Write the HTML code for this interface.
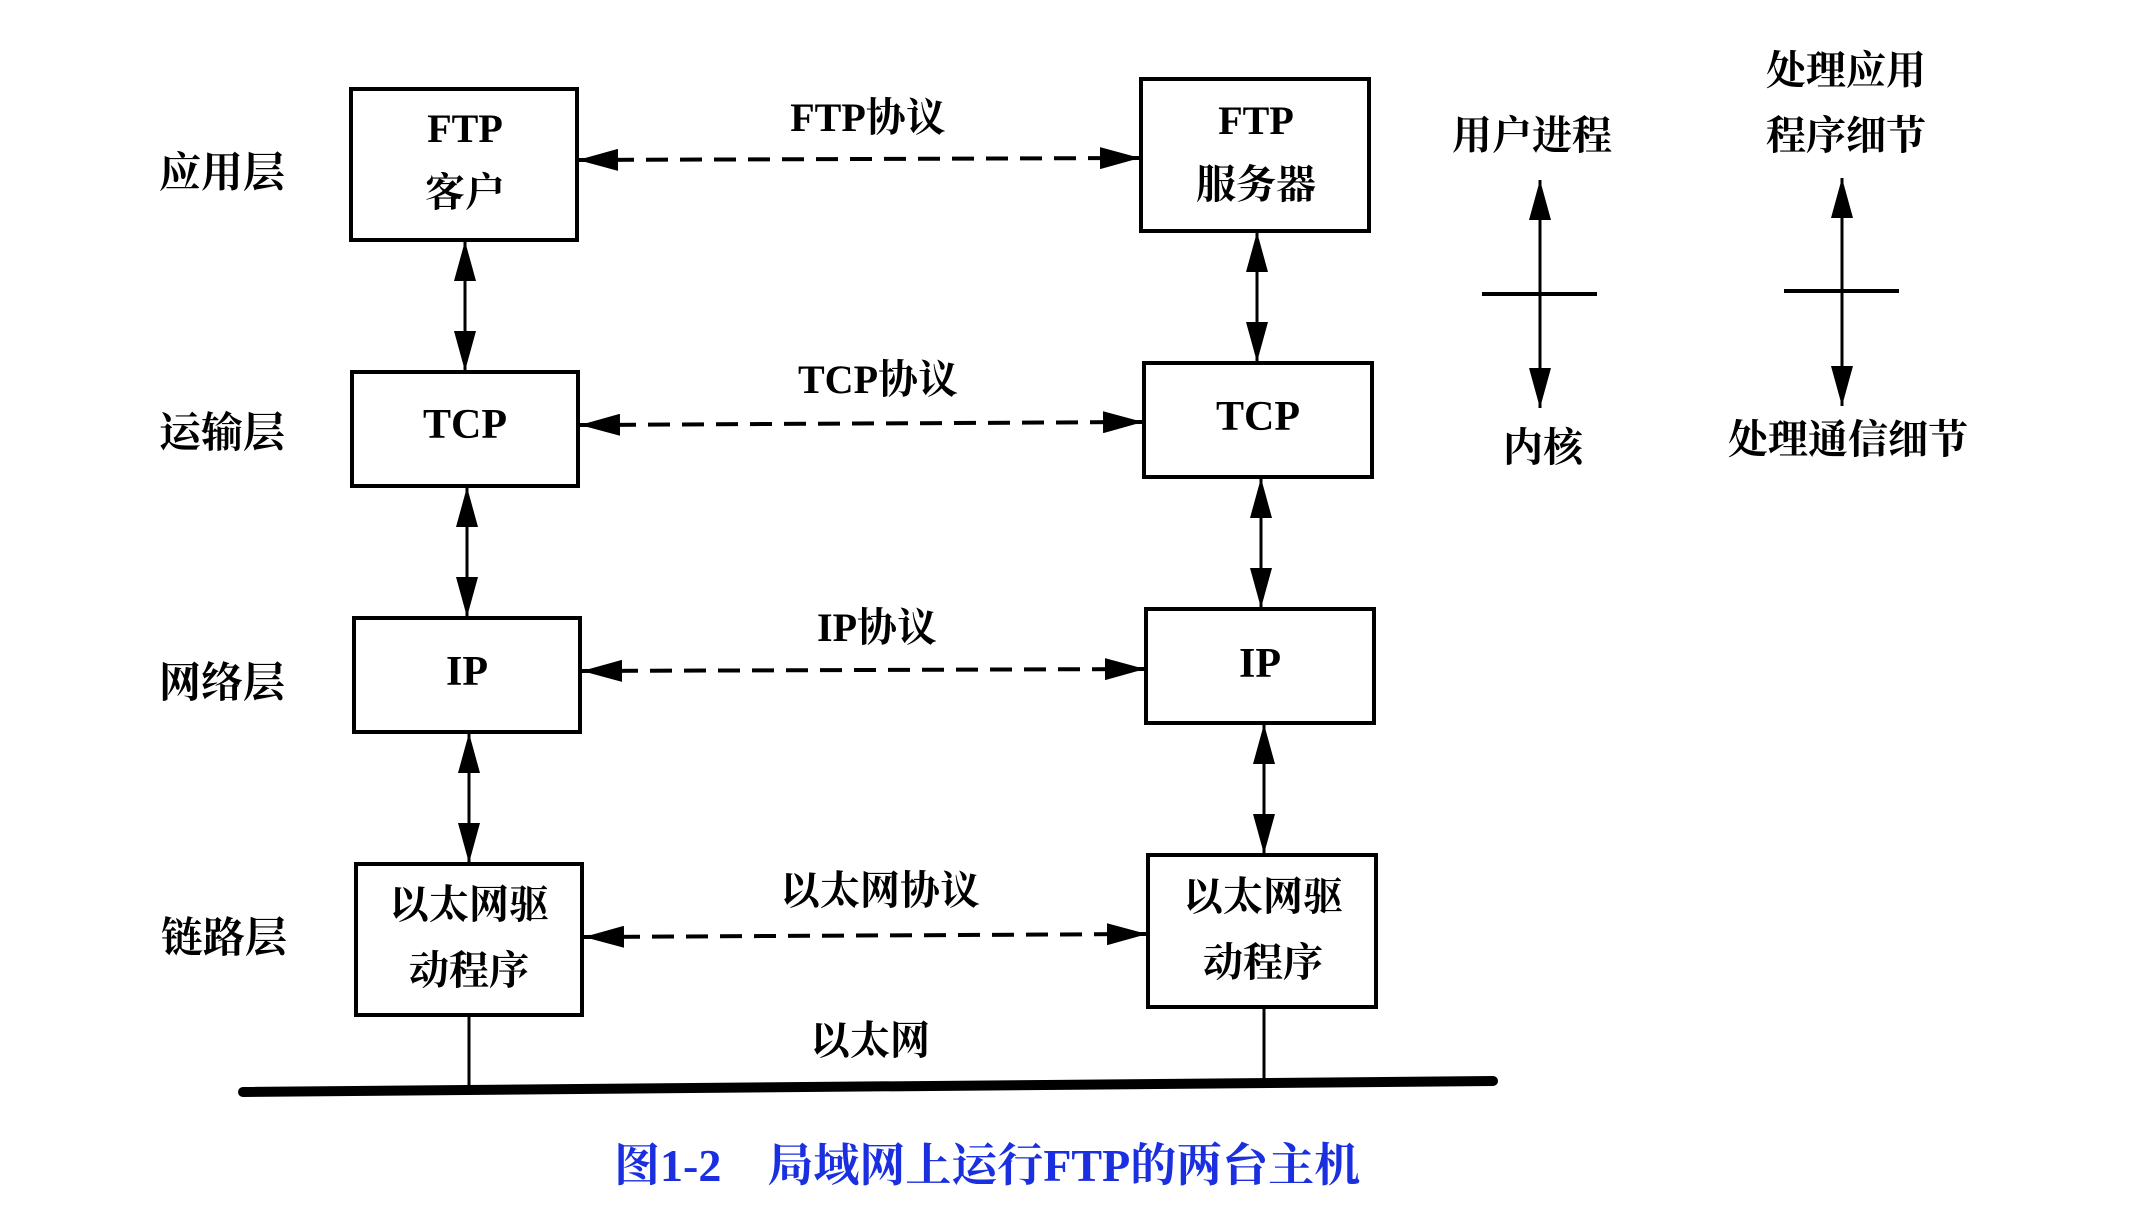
<!DOCTYPE html>
<html><head><meta charset="utf-8"><style>
html,body{margin:0;padding:0;background:#fff;}
svg{display:block;}
text{font-family:"Liberation Serif","Noto Serif CJK SC",serif;font-weight:bold;fill:#000;}
.cn{font-family:"Liberation Serif","Noto Serif CJK SC",serif;}
</style></head><body>
<svg width="2144" height="1220" viewBox="0 0 2144 1220" xmlns="http://www.w3.org/2000/svg">
<defs>
<marker id="ah" viewBox="0 0 40 22" refX="40" refY="11" markerWidth="40" markerHeight="22" markerUnits="userSpaceOnUse" orient="auto-start-reverse">
<path d="M0,0 L40,11 L0,22 Z" fill="#000"/>
</marker>
</defs>
<g fill="none" stroke="#000" stroke-width="4">
<!-- left boxes -->
<rect x="351" y="89" width="226" height="151"/>
<rect x="352" y="372" width="226" height="114"/>
<rect x="354" y="618" width="226" height="114"/>
<rect x="356" y="864" width="226" height="151"/>
<!-- right boxes -->
<rect x="1141" y="79" width="228" height="152"/>
<rect x="1144" y="363" width="228" height="114"/>
<rect x="1146" y="609" width="228" height="114"/>
<rect x="1148" y="855" width="228" height="152"/>
</g>
<g stroke="#000" stroke-width="3" fill="none">
<!-- vertical arrows left -->
<line x1="465" y1="241" x2="465" y2="371" marker-start="url(#ah)" marker-end="url(#ah)"/>
<line x1="467" y1="487" x2="467" y2="617" marker-start="url(#ah)" marker-end="url(#ah)"/>
<line x1="469" y1="733" x2="469" y2="863" marker-start="url(#ah)" marker-end="url(#ah)"/>
<!-- vertical arrows right -->
<line x1="1257" y1="232" x2="1257" y2="362" marker-start="url(#ah)" marker-end="url(#ah)"/>
<line x1="1261" y1="478" x2="1261" y2="608" marker-start="url(#ah)" marker-end="url(#ah)"/>
<line x1="1264" y1="724" x2="1264" y2="854" marker-start="url(#ah)" marker-end="url(#ah)"/>
<!-- ethernet drops -->
<line x1="469" y1="1015" x2="469" y2="1090"/>
<line x1="1264" y1="1007" x2="1264" y2="1084"/>
<!-- right legend arrows -->
<line x1="1540" y1="180" x2="1540" y2="408" marker-start="url(#ah)" marker-end="url(#ah)"/>
<line x1="1842" y1="178" x2="1842" y2="406" marker-start="url(#ah)" marker-end="url(#ah)"/>
</g>
<g stroke="#000" stroke-width="4">
<line x1="1482" y1="294" x2="1597" y2="294"/>
<line x1="1784" y1="291" x2="1899" y2="291"/>
</g>
<!-- dashed protocol arrows -->
<g stroke="#000" stroke-width="4" fill="none" stroke-dasharray="22 12">
<line x1="578" y1="160" x2="1140" y2="158" marker-start="url(#ah)" marker-end="url(#ah)"/>
<line x1="580" y1="425" x2="1143" y2="422" marker-start="url(#ah)" marker-end="url(#ah)"/>
<line x1="582" y1="671" x2="1145" y2="669" marker-start="url(#ah)" marker-end="url(#ah)"/>
<line x1="584" y1="937" x2="1147" y2="934" marker-start="url(#ah)" marker-end="url(#ah)"/>
</g>
<!-- bus -->
<line x1="243" y1="1092" x2="1493" y2="1081" stroke="#000" stroke-width="10" stroke-linecap="round"/>

<!-- layer labels -->
<g font-size="42" class="cn">
<text x="159" y="187">应用层</text>
<text x="159" y="447">运输层</text>
<text x="159" y="697">网络层</text>
<text x="161" y="952">链路层</text>
</g>
<!-- box texts -->
<g font-size="40" text-anchor="middle">
<text x="465" y="142" font-weight="normal">FTP</text>
<text x="465" y="206">客户</text>
<text x="465" y="438" font-size="42">TCP</text>
<text x="467" y="685" font-size="42">IP</text>
<text x="469" y="918">以太网驱</text>
<text x="469" y="984">动程序</text>
<text x="1256" y="134" font-weight="normal">FTP</text>
<text x="1256" y="198">服务器</text>
<text x="1258" y="430" font-size="42">TCP</text>
<text x="1260" y="677" font-size="42">IP</text>
<text x="1263" y="910">以太网驱</text>
<text x="1263" y="976">动程序</text>
</g>
<!-- protocol labels -->
<g font-size="40" text-anchor="middle">
<text x="868" y="131">FTP协议</text>
<text x="878" y="393">TCP协议</text>
<text x="877" y="641">IP协议</text>
<text x="880" y="904">以太网协议</text>
<text x="870" y="1054">以太网</text>
</g>
<!-- legend labels -->
<g font-size="40" text-anchor="middle">
<text x="1532" y="149">用户进程</text>
<text x="1543" y="461">内核</text>
<text x="1846" y="84">处理应用</text>
<text x="1846" y="149">程序细节</text>
<text x="1848" y="453">处理通信细节</text>
</g>
<!-- caption -->
<text x="614" y="1181" font-size="46" style="fill:#1a2fe0">图1-2　局域网上运行FTP的两台主机</text>
</svg>
</body></html>
